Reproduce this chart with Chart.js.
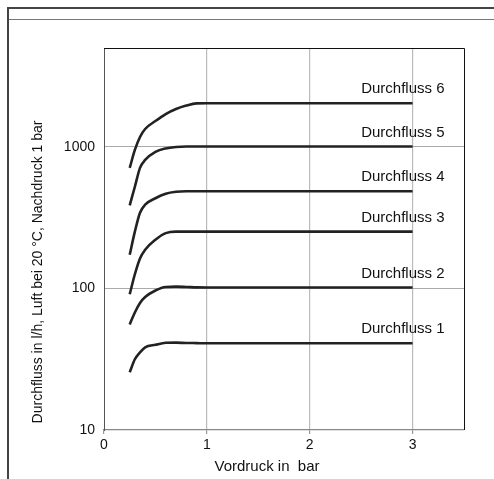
<!DOCTYPE html>
<html>
<head>
<meta charset="utf-8">
<script src="https://cdn.jsdelivr.net/npm/chart.js@4.4.1/dist/chart.umd.min.js"></script>
<style>
  html,body{margin:0;padding:0;background:#fff;}
  #c{display:block;}
</style>
</head>
<body>
<canvas id="c" width="494" height="479"></canvas>
<script>
/* Durchfluss-Kennlinien, log. Y-Achse */
const PRESSURE = [0.25, 0.3, 0.35, 0.4, 0.5, 0.6, 0.7, 0.8, 0.9, 1.0, 1.5, 2.0, 2.5, 3.0];

const FLOW_1 = [25.6, 31.6, 35.4, 38.4, 40.0, 41.3, 41.4, 41.2, 41.1, 41, 41, 41, 41, 41];
const FLOW_2 = [55.7, 67.7, 79, 87, 96.8, 102.5, 103, 102.5, 101.8, 101.6, 101.6, 101.6, 101.6, 101.6];
const FLOW_3 = [91, 126, 163, 188, 221, 246, 252, 252, 252, 252, 252, 252, 252, 252];
const FLOW_4 = [173, 252, 343, 391, 434, 467, 482, 486, 486, 486, 486, 486, 486, 486];
const FLOW_5 = [387, 523, 711, 809, 922, 976, 1000, 1008, 1008, 1008, 1008, 1008, 1008, 1008];
const FLOW_6 = [711, 952, 1176, 1339, 1524, 1707, 1853, 1961, 2031, 2035, 2035, 2035, 2035, 2035];

const SERIES = [FLOW_1, FLOW_2, FLOW_3, FLOW_4, FLOW_5, FLOW_6];
const NAMES  = ['Durchfluss 1','Durchfluss 2','Durchfluss 3','Durchfluss 4','Durchfluss 5','Durchfluss 6'];

const X_TICKS = [0, 1, 2, 3];
const Y_TICKS = [10, 100, 1000];
const X_TITLE = 'Vordruck in  bar';
const Y_TITLE = 'Durchfluss in l/h, Luft bei 20 °C, Nachdruck 1 bar';
const LABEL_X = 2.5;

const FONT = '"Liberation Sans", Arial, Helvetica, sans-serif';

const frame = {
  id:'frame',
  beforeDraw(c){
    const {ctx} = c;
    ctx.save();
    ctx.fillStyle = '#fff'; ctx.fillRect(0,0,c.width,c.height);
    ctx.strokeStyle = '#444'; ctx.lineWidth = 2;
    ctx.beginPath(); ctx.moveTo(8,479); ctx.lineTo(8,8); ctx.lineTo(494,8); ctx.stroke();
    ctx.strokeStyle = '#777'; ctx.lineWidth = 1;
    ctx.beginPath(); ctx.moveTo(9,19.5); ctx.lineTo(494,19.5); ctx.stroke();
    ctx.restore();
  },
  afterDraw(c){
    const {ctx, chartArea:{left,right,top,bottom}, scales:{x,y}} = c;
    ctx.save();
    // Rahmen oben / rechts
    ctx.strokeStyle = '#111'; ctx.lineWidth = 1;
    ctx.beginPath(); ctx.moveTo(left, top+0.5); ctx.lineTo(right+0.5, top+0.5); ctx.lineTo(right+0.5, bottom); ctx.stroke();
    // Kurvenbeschriftung
    ctx.fillStyle = '#111'; ctx.font = '15px '+FONT;
    ctx.textAlign = 'left'; ctx.textBaseline = 'middle';
    SERIES.forEach((s,i)=>{
      ctx.fillText(NAMES[i], x.getPixelForValue(LABEL_X), y.getPixelForValue(s[s.length-1]) - 14);
    });
    // Achsentitel
    ctx.textAlign = 'center';
    ctx.fillText(X_TITLE, 267, 467);
    ctx.font = '14px '+FONT;
    ctx.translate(38, 272); ctx.rotate(-Math.PI/2);
    ctx.fillText(Y_TITLE, 0, 0);
    ctx.restore();
  }
};

new Chart(document.getElementById('c'), {
  type:'line',
  data:{
    datasets: SERIES.map((s,i)=>({
      label: NAMES[i],
      data: s.map((v,j)=>({x:PRESSURE[j], y:v})),
      borderColor:'#222', borderWidth:2.6, pointRadius:0,
      cubicInterpolationMode:'monotone', fill:false
    }))
  },
  options:{
    responsive:false, animation:false,
    layout:{padding:{left:0, top:48, right:30, bottom:0}},
    plugins:{legend:{display:false}, tooltip:{enabled:false}},
    scales:{
      x:{
        type:'linear', min:0, max:3.5,
        afterBuildTicks: s => { s.ticks = X_TICKS.map(v=>({value:v})); },
        afterFit: s => { s.height = 49; },
        grid:{color: ctx => ctx.tick && ctx.tick.value === 0 ? 'rgba(0,0,0,0)' : '#bbb',
              tickColor:'#999', tickLength:4, lineWidth:1.2},
        border:{color:'#888', width:1.2},
        ticks:{color:'#111', font:{family:FONT, size:14}, padding:3, maxRotation:0}
      },
      y:{
        type:'logarithmic', min:10, max:5000,
        afterBuildTicks: s => { s.ticks = Y_TICKS.map(v=>({value:v})); },
        afterFit: s => { s.width = 104; },
        grid:{color: ctx => ctx.tick && ctx.tick.value === 10 ? 'rgba(0,0,0,0)' : '#aaa',
              drawTicks:false, lineWidth:1},
        border:{color:'#555', width:1},
        ticks:{color:'#111', font:{family:FONT, size:14}, padding:9,
               callback: v => String(v)}
      }
    }
  },
  plugins:[frame]
});
</script>
</body>
</html>
